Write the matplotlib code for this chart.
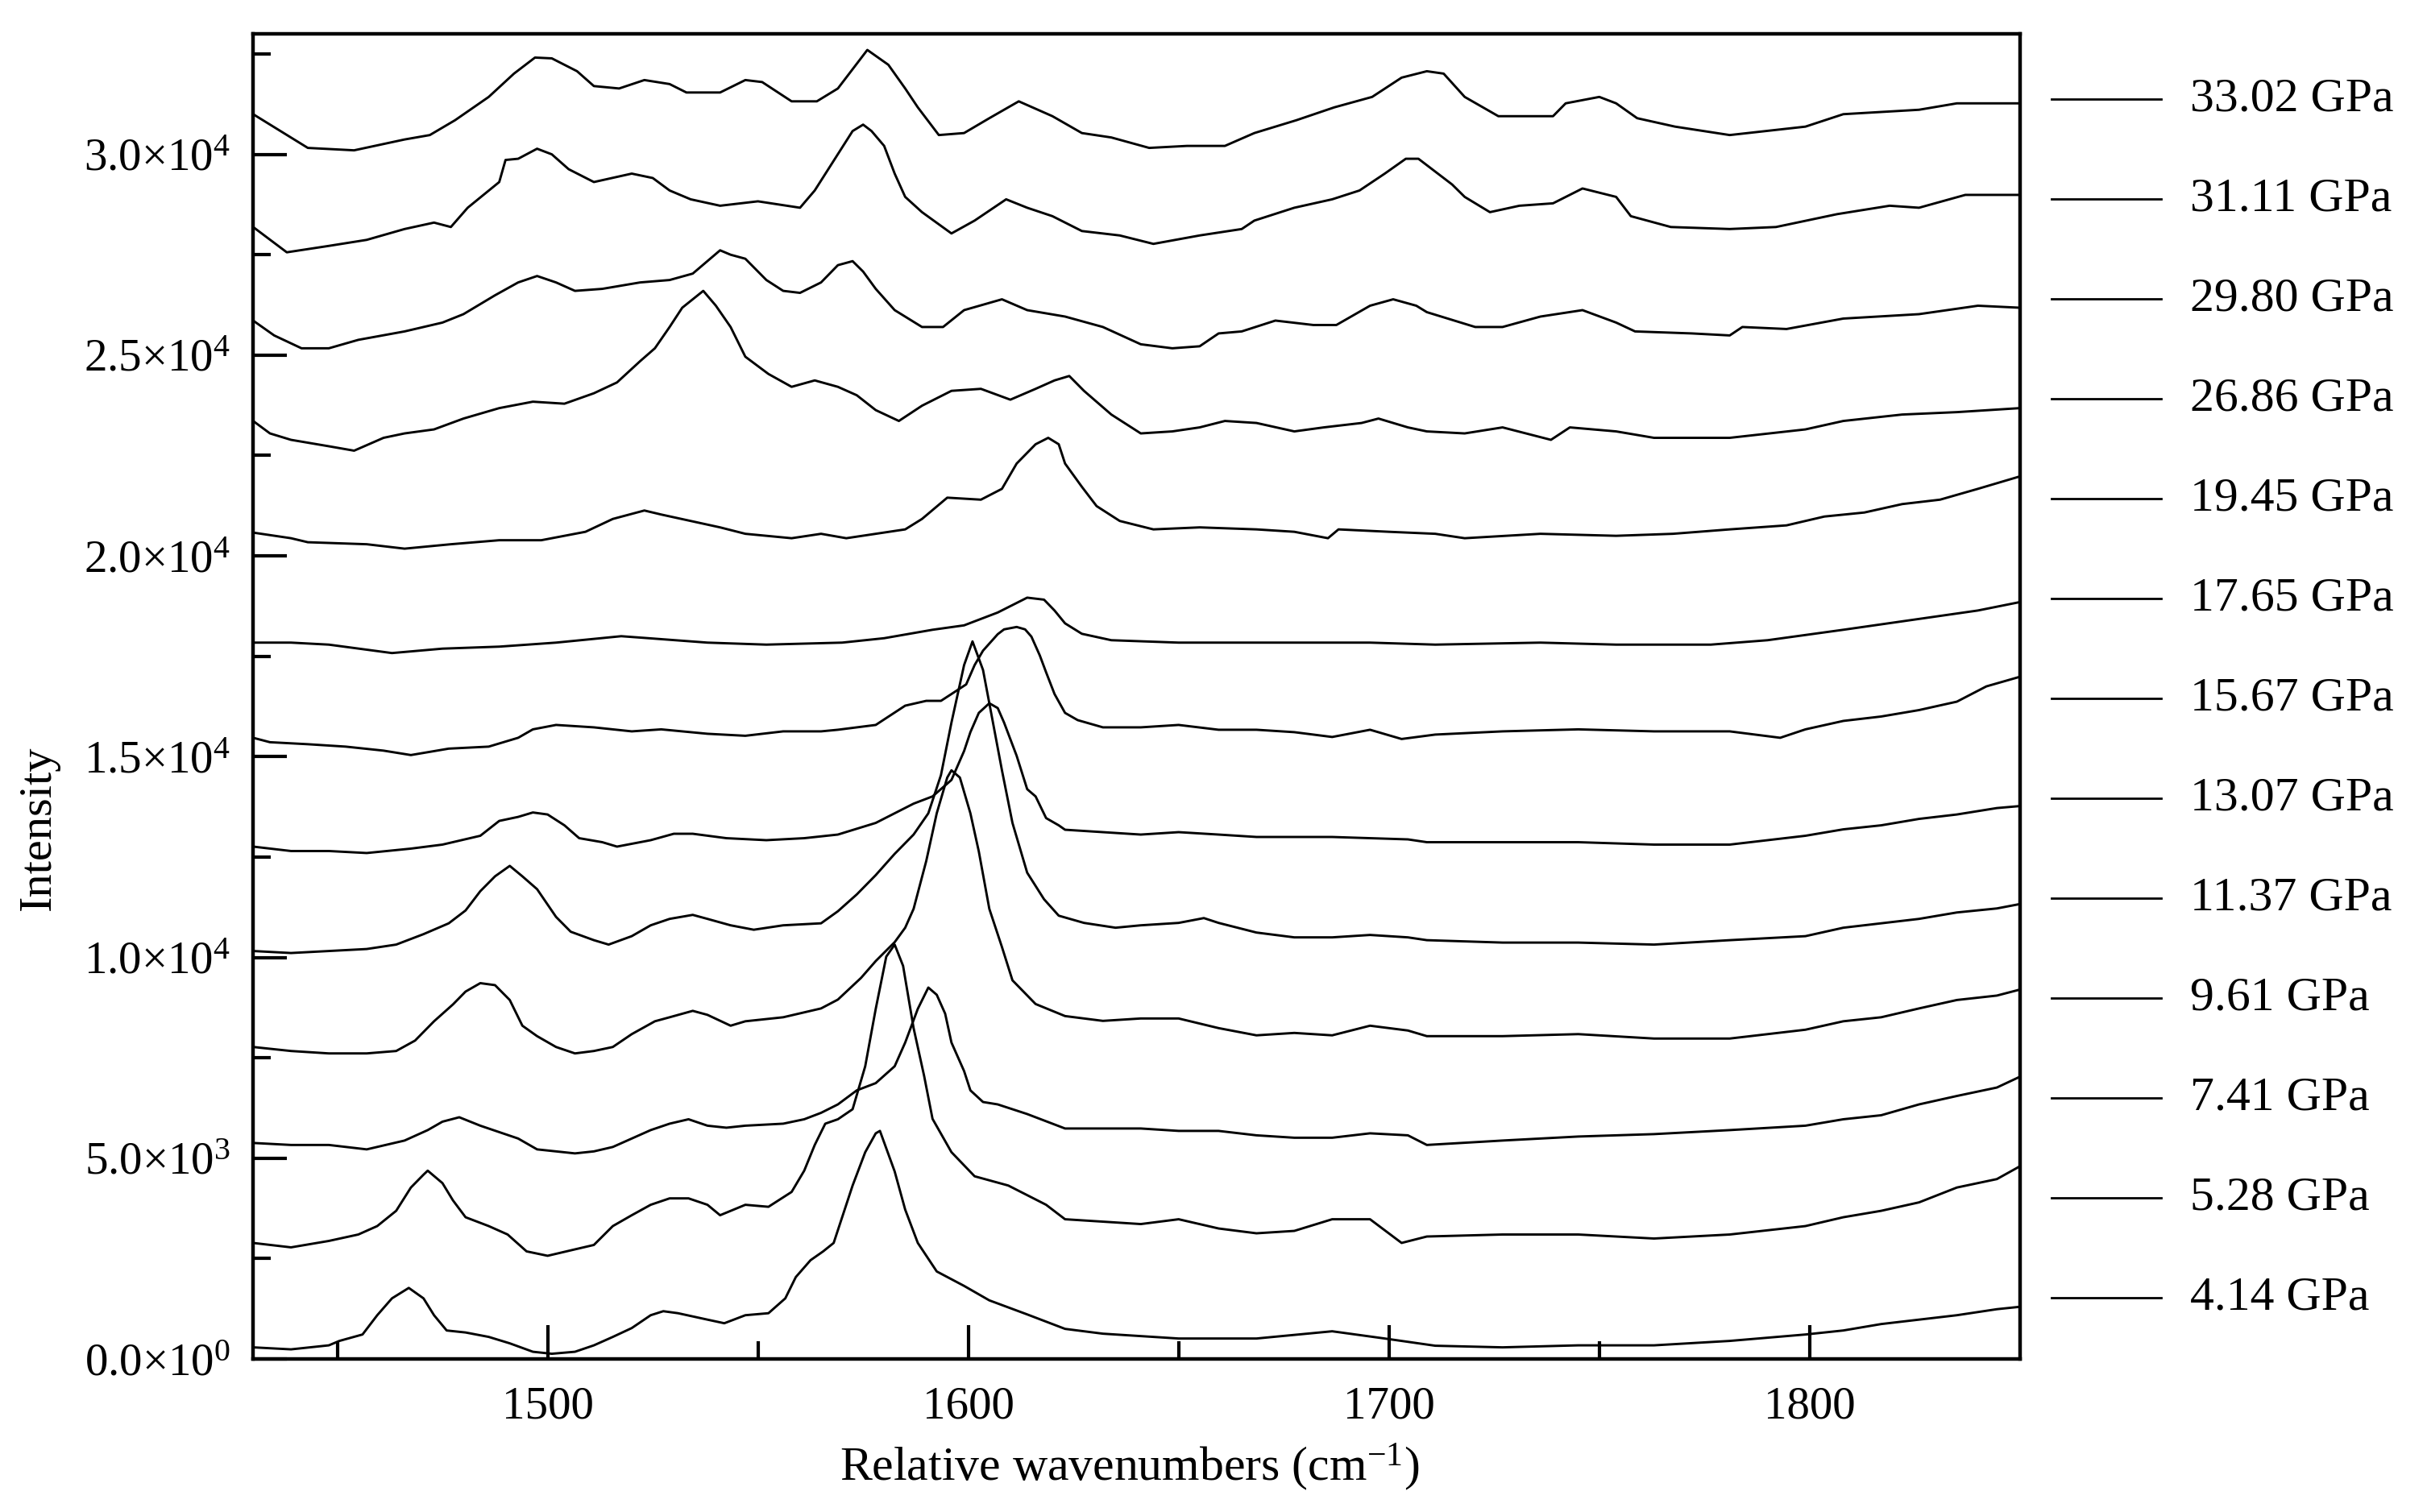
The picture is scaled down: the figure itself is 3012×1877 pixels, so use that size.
import matplotlib.pyplot as plt
from matplotlib.lines import Line2D
from matplotlib.ticker import MultipleLocator, FixedLocator, FuncFormatter
import math

plt.rcParams['font.family'] = 'Liberation Serif'
plt.rcParams['mathtext.fontset'] = 'custom'
plt.rcParams['mathtext.rm'] = 'Liberation Serif'
plt.rcParams['mathtext.it'] = 'Liberation Serif:italic'

# Raman-Spektren, Werte (Wellenzahl in cm-1, Intensität)
x_3302 = [1430, 1443, 1454, 1466, 1472, 1478, 1486, 1492, 1497, 1501, 1507, 1511, 1517, 1523, 1529, 1533, 1541, 1547,
          1551, 1558, 1564, 1569, 1576, 1581, 1585, 1588, 1593, 1599, 1605, 1612, 1620, 1627, 1634, 1643, 1652, 1661,
          1668, 1678, 1687, 1696, 1703, 1709, 1713, 1718, 1726, 1739, 1742, 1750, 1754, 1759, 1768, 1781, 1799, 1808,
          1826, 1835, 1850]
y_3302 = [31000, 30160, 30100, 30370, 30480, 30850, 31430, 32010, 32410, 32390, 32070, 31700, 31640, 31850, 31750,
          31540, 31540, 31850, 31800, 31320, 31320, 31640, 32600, 32230, 31640, 31170, 30480, 30530, 30900, 31320,
          30950, 30530, 30420, 30160, 30210, 30210, 30530, 30850, 31170, 31430, 31910, 32070, 32010, 31430, 30950,
          30950, 31270, 31430, 31270, 30900, 30690, 30480, 30690, 31000, 31110, 31270, 31270]

x_3111 = [1430, 1438, 1448, 1457, 1466, 1473, 1477, 1481, 1488.5, 1490, 1493, 1497.5, 1501, 1505, 1511, 1520, 1525,
          1529, 1534, 1541, 1550, 1560, 1563.5, 1568, 1572.5, 1575, 1577, 1580, 1582.5, 1585, 1589, 1596, 1601.5,
          1609, 1614, 1620, 1627, 1636, 1644, 1655, 1665, 1668, 1677.5, 1686.5, 1693, 1699, 1704, 1707, 1709, 1715,
          1718, 1724, 1731, 1739, 1746, 1754, 1757.5, 1767, 1781, 1792, 1806.5, 1819, 1826, 1837, 1850]
y_3111 = [28190, 27560, 27720, 27870, 28140, 28300, 28190, 28670, 29310, 29860, 29890, 30140, 30000, 29630, 29310,
          29520, 29410, 29100, 28880, 28720, 28830, 28670, 29100, 29840, 30580, 30740, 30580, 30210, 29520, 28940,
          28560, 28030, 28350, 28880, 28670, 28460, 28090, 27980, 27770, 27980, 28140, 28350, 28670, 28880, 29100,
          29520, 29890, 29890, 29730, 29250, 28940, 28560, 28720, 28780, 29150, 28940, 28460, 28190, 28140, 28190,
          28510, 28720, 28670, 28990, 28990]

x_2980 = [1430, 1435, 1441.5, 1448, 1455, 1466, 1475, 1480, 1487.5, 1493, 1497.5, 1502, 1506.5, 1513, 1522, 1529,
          1534.5, 1541, 1543.5, 1547, 1552, 1556, 1560, 1565, 1569, 1572.5, 1575, 1578, 1582.5, 1589, 1594, 1599,
          1608, 1614, 1623, 1632, 1641, 1648.5, 1655, 1659.5, 1665, 1673, 1682, 1687.5, 1695.5, 1701, 1706.5, 1709,
          1720.5, 1727, 1736, 1746, 1754, 1758.5, 1772, 1781, 1784, 1794.5, 1808, 1826, 1840, 1850]
y_2980 = [25860, 25490, 25170, 25170, 25380, 25590, 25810, 26020, 26490, 26810, 26970, 26810, 26600, 26650, 26810,
          26870, 27030, 27610, 27500, 27400, 26870, 26600, 26550, 26810, 27240, 27340, 27080, 26650, 26120, 25700,
          25700, 26120, 26390, 26120, 25960, 25700, 25270, 25170, 25220, 25540, 25590, 25860, 25750, 25750, 26230,
          26390, 26230, 26070, 25700, 25700, 25960, 26120, 25810, 25590, 25540, 25490, 25700, 25650, 25910, 26020,
          26230, 26180]

x_2686 = [1430, 1434, 1439, 1448, 1454, 1461, 1466, 1473, 1480, 1488.5, 1496.5, 1504, 1511, 1516.5, 1522, 1525.5,
          1529, 1532, 1534.5, 1537, 1540, 1543.5, 1547, 1552.5, 1558, 1563.5, 1569, 1573.5, 1578, 1583.5, 1589, 1596,
          1603, 1610, 1616, 1620.5, 1624, 1627.5, 1634, 1641, 1648.5, 1655, 1661, 1668.5, 1677.5, 1684.5, 1693.5,
          1697.5, 1704.5, 1709, 1718, 1727, 1738.5, 1743, 1754, 1763, 1781, 1799, 1808, 1822, 1835, 1850]
y_2686 = [23360, 23050, 22890, 22730, 22620, 22940, 23050, 23150, 23420, 23680, 23840, 23790, 24050, 24320, 24850,
          25170, 25700, 26180, 26390, 26600, 26230, 25700, 24960, 24530, 24210, 24370, 24210, 24000, 23630, 23360,
          23740, 24110, 24160, 23890, 24160, 24370, 24480, 24110, 23520, 23050, 23100, 23200, 23360, 23310, 23100,
          23200, 23310, 23420, 23200, 23100, 23050, 23200, 22890, 23200, 23100, 22940, 22940, 23150, 23360, 23520,
          23580, 23680]

x_1945 = [1430, 1439, 1443, 1457, 1466, 1477, 1488.5, 1498.5, 1509, 1515.5, 1523, 1527, 1534, 1541, 1547, 1558, 1565,
          1571, 1578, 1585, 1589, 1595, 1603, 1608, 1611.5, 1616, 1619, 1621.5, 1623, 1627, 1630.5, 1636, 1644, 1655,
          1668.5, 1677.5, 1685.5, 1688, 1700, 1711, 1718, 1736, 1754, 1767.5, 1781, 1794.5, 1803.5, 1813, 1822, 1831,
          1840, 1850]
y_1945 = [20580, 20440, 20340, 20290, 20180, 20290, 20390, 20390, 20600, 20920, 21130, 21030, 20870, 20710, 20550,
          20440, 20550, 20440, 20550, 20660, 20920, 21450, 21400, 21670, 22300, 22780, 22940, 22780, 22300, 21720,
          21240, 20870, 20660, 20710, 20660, 20600, 20440, 20660, 20600, 20550, 20440, 20550, 20500, 20550, 20660,
          20760, 20980, 21080, 21290, 21400, 21670, 21980]

x_1765 = [1430, 1439, 1448, 1463, 1475, 1488.5, 1502, 1517.5, 1524, 1538, 1552, 1570, 1580, 1591.5, 1599, 1607, 1614,
          1618, 1620.5, 1623, 1627, 1634, 1650, 1677.5, 1695.5, 1711, 1736, 1754, 1776.5, 1790, 1808, 1826, 1840, 1850]
y_1765 = [17840, 17840, 17790, 17580, 17690, 17740, 17840, 18000, 17950, 17840, 17790, 17840, 17950, 18160, 18270,
          18590, 18960, 18910, 18640, 18320, 18060, 17900, 17840, 17840, 17840, 17790, 17840, 17790, 17790, 17900,
          18160, 18430, 18640, 18850]

x_1567 = [1430, 1434, 1443, 1452, 1461, 1467.5, 1476.5, 1486, 1493, 1496.5, 1502, 1511, 1520, 1527, 1538, 1547, 1556,
          1565, 1569, 1578, 1585, 1590, 1593.5, 1596, 1599.5, 1601.5, 1603.5, 1607, 1608.5, 1611.5, 1613.5, 1615, 1617,
          1618.5, 1620.5, 1623, 1626, 1632, 1641, 1650, 1659.5, 1668.5, 1677.5, 1686.5, 1695.5, 1703, 1711, 1727, 1745,
          1763, 1781, 1793, 1799, 1808, 1817, 1826, 1835, 1842, 1850]
y_1567 = [15470, 15360, 15310, 15250, 15150, 15040, 15200, 15250, 15470, 15680, 15790, 15730, 15630, 15680, 15570,
          15520, 15630, 15630, 15670, 15790, 16270, 16390, 16390, 16560, 16800, 17280, 17640, 18050, 18170, 18230,
          18170, 17990, 17520, 17100, 16560, 16090, 15910, 15730, 15730, 15790, 15670, 15670, 15610, 15490, 15670,
          15440, 15550, 15630, 15680, 15630, 15630, 15470, 15680, 15890, 16000, 16160, 16370, 16750, 16990]

x_1307 = [1430, 1439, 1448, 1457, 1467.5, 1475, 1484, 1488.5, 1493, 1496.5, 1500, 1504, 1507.5, 1513, 1516.5, 1524.5,
          1530, 1534.5, 1542.5, 1552, 1561, 1569, 1578, 1587, 1591.5, 1596, 1599, 1600.5, 1602.5, 1605, 1607, 1608.5,
          1611.5, 1614, 1616, 1618.5, 1621.5, 1623, 1632, 1641, 1650, 1659.5, 1668.5, 1686.5, 1704.5, 1709, 1727,
          1745, 1763, 1781, 1799, 1808, 1817, 1826, 1835, 1844.5, 1850]
y_1307 = [12760, 12650, 12650, 12600, 12710, 12810, 13030, 13400, 13500, 13610, 13560, 13290, 12970, 12870, 12760,
          12920, 13080, 13080, 12970, 12920, 12970, 13060, 13350, 13830, 14010, 14420, 15140, 15610, 16090, 16330,
          16210, 15850, 15020, 14190, 14010, 13470, 13290, 13180, 13120, 13060, 13120, 13060, 13000, 13000, 12940,
          12870, 12870, 12870, 12810, 12810, 13030, 13190, 13290, 13450, 13560, 13720, 13770]

x_1137 = [1430, 1439, 1448, 1457, 1464, 1470.5, 1476.5, 1480.5, 1484, 1487.5, 1491, 1494, 1497.5, 1502, 1505.5, 1511,
          1514.5, 1520, 1524.5, 1529, 1534.5, 1538, 1543.5, 1549, 1556, 1565, 1569, 1573.5, 1578, 1582.5, 1587, 1590.5,
          1593.5, 1596, 1599, 1601, 1603.5, 1605, 1608, 1610.5, 1614, 1618, 1621.5, 1627.5, 1635, 1641, 1650, 1656,
          1659.5, 1668.5, 1677.5, 1686.5, 1695.5, 1704.5, 1709, 1727, 1745, 1763, 1781, 1799, 1808, 1817, 1826, 1835,
          1844.5, 1850]
y_1137 = [10160, 10110, 10160, 10210, 10320, 10580, 10850, 11170, 11650, 12020, 12280, 12020, 11700, 11010, 10640,
          10430, 10320, 10530, 10800, 10960, 11060, 10960, 10800, 10690, 10800, 10850, 11150, 11570, 12050, 12580,
          13060, 13590, 14540, 15850, 17280, 17870, 17160, 16330, 14660, 13350, 12110, 11450, 11040, 10860, 10740,
          10800, 10860, 10980, 10860, 10620, 10500, 10500, 10560, 10500, 10430, 10370, 10370, 10320, 10430, 10530,
          10740, 10850, 10960, 11120, 11220, 11330]

x_961 = [1430, 1439, 1448, 1457, 1464, 1468.5, 1473, 1477.5, 1480.5, 1484, 1487.5, 1491, 1494, 1497.5, 1502, 1506.5,
         1511, 1515.5, 1520, 1525.5, 1529, 1534.5, 1538, 1543.5, 1547, 1556, 1565, 1569, 1574.5, 1578, 1582.5, 1585,
         1587, 1590, 1592.5, 1595, 1596, 1598, 1600.5, 1602.5, 1605, 1608, 1610.5, 1616, 1623, 1632, 1641, 1650,
         1659.5, 1668.5, 1677.5, 1686.5, 1695.5, 1704.5, 1709, 1727, 1745, 1763, 1781, 1799, 1808, 1817, 1826, 1835,
         1844.5, 1850]
y_961 = [7770, 7670, 7610, 7610, 7670, 7930, 8410, 8830, 9150, 9360, 9310, 8940, 8300, 8040, 7770, 7610, 7670, 7770,
         8090, 8410, 8510, 8670, 8570, 8300, 8410, 8510, 8730, 8950, 9490, 9910, 10380, 10740, 11210, 12400, 13590,
         14480, 14660, 14480, 13590, 12640, 11210, 10260, 9430, 8840, 8540, 8420, 8480, 8480, 8240, 8060, 8120, 8060,
         8300, 8180, 8040, 8040, 8090, 7980, 7980, 8200, 8410, 8510, 8730, 8940, 9050, 9200]

x_741 = [1430, 1439, 1448, 1457, 1466, 1471.5, 1475, 1479, 1484, 1488.5, 1493, 1497.5, 1502, 1506.5, 1511, 1515.5,
         1520, 1524.5, 1529, 1533.5, 1538, 1542.5, 1547, 1556, 1561, 1565, 1569, 1573.5, 1578, 1582.5, 1585, 1588,
         1590.5, 1592.5, 1594.5, 1596, 1599, 1600.5, 1603.5, 1607, 1614, 1623, 1632, 1641, 1650, 1659.5, 1668.5,
         1677.5, 1686.5, 1695.5, 1704.5, 1709, 1727, 1745, 1763, 1781, 1799, 1808, 1817, 1826, 1835, 1844.5, 1850]
y_741 = [5380, 5330, 5330, 5220, 5440, 5700, 5910, 6020, 5810, 5650, 5490, 5220, 5170, 5120, 5170, 5280, 5490, 5700,
         5860, 5970, 5810, 5760, 5810, 5860, 5970, 6130, 6340, 6690, 6870, 7290, 7880, 8720, 9250, 9070, 8600, 7880,
         7170, 6690, 6400, 6340, 6100, 5740, 5740, 5740, 5680, 5680, 5570, 5510, 5510, 5620, 5570, 5330, 5440, 5540,
         5600, 5700, 5810, 5970, 6070, 6340, 6550, 6760, 7030]

x_528 = [1430, 1439, 1448, 1455, 1459.5, 1464, 1467.5, 1470.5, 1471.5, 1475, 1477.5, 1480.5, 1486, 1490.5, 1495,
         1500, 1506.5, 1511, 1515.5, 1520, 1524.5, 1529, 1533.5, 1538, 1541, 1547, 1552.5, 1558, 1561, 1563.5, 1566,
         1569, 1572.5, 1575.5, 1578, 1580.5, 1582.5, 1584.5, 1587, 1589.5, 1591.5, 1596, 1601.5, 1609.5, 1618.5, 1623,
         1632, 1641, 1650, 1659.5, 1668.5, 1677.5, 1686.5, 1695.5, 1703, 1709, 1727, 1745, 1763, 1781, 1799, 1808,
         1817, 1826, 1835, 1844.5, 1850]
y_528 = [2890, 2780, 2940, 3100, 3310, 3690, 4270, 4590, 4690, 4380, 3950, 3530, 3310, 3100, 2680, 2570, 2730, 2840,
         3310, 3580, 3840, 4000, 4000, 3840, 3580, 3840, 3790, 4160, 4690, 5330, 5860, 5970, 6220, 7290, 8720, 10020,
         10320, 9790, 8240, 7050, 5980, 5150, 4550, 4320, 3840, 3480, 3420, 3360, 3480, 3250, 3130, 3190, 3480, 3480,
         2890, 3050, 3100, 3100, 3000, 3100, 3310, 3530, 3690, 3900, 4270, 4480, 4800]

x_414 = [1430, 1439, 1448, 1450.5, 1456, 1459.5, 1463, 1467, 1470.5, 1473, 1476, 1480.5, 1486, 1491, 1496.5, 1501,
         1506.5, 1511, 1515.5, 1520, 1524.5, 1527.5, 1531, 1538, 1542, 1547, 1552.5, 1556.5, 1559, 1562.5, 1565.5,
         1568, 1572.5, 1575.5, 1578, 1579, 1582.5, 1585, 1588, 1592.5, 1599, 1605, 1614, 1623, 1632, 1650, 1668.5,
         1686.5, 1699, 1711, 1727, 1745, 1763, 1781, 1799, 1808, 1817, 1826, 1835, 1844.5, 1850]
y_414 = [290, 240, 340, 450, 610, 1090, 1510, 1770, 1510, 1090, 710, 660, 550, 390, 180, 130, 180, 340, 550, 770,
         1090, 1190, 1140, 980, 890, 1090, 1140, 1510, 2040, 2460, 2680, 2890, 4320, 5150, 5620, 5680, 4670, 3720,
         2890, 2180, 1820, 1460, 1110, 750, 630, 510, 510, 690, 510, 330, 290, 340, 340, 450, 610, 710, 870, 980,
         1090, 1240, 1300]

# Legende von oben nach unten
drucke = ['33.02 GPa', '31.11 GPa', '29.80 GPa', '26.86 GPa', '19.45 GPa', '17.65 GPa', '15.67 GPa',
          '13.07 GPa', '11.37 GPa', '9.61 GPa', '7.41 GPa', '5.28 GPa', '4.14 GPa']
spektren = [(x_3302, y_3302), (x_3111, y_3111), (x_2980, y_2980), (x_2686, y_2686), (x_1945, y_1945),
            (x_1765, y_1765), (x_1567, y_1567), (x_1307, y_1307), (x_1137, y_1137), (x_961, y_961),
            (x_741, y_741), (x_528, y_528), (x_414, y_414)]

fig = plt.figure(figsize=(15.06, 9.385), dpi=200)
ax = fig.add_axes([0.1043, 0.1012, 0.7280, 0.8764])

for wn, inten in spektren:
    ax.plot(wn, inten, color='black', linewidth=1.05)

ax.set_xlim(1430, 1850)
ax.set_ylim(0, 33000)


def sci_label(v, pos):
    if v < 0:
        return ''
    if v < 1:
        return r'0.0$\times$10$^{0}$'
    e = int(math.floor(math.log10(v)))
    m = v / 10 ** e
    return '%.1f$\\times$10$^{%d}$' % (m, e)


ax.xaxis.set_major_locator(MultipleLocator(100))
ax.xaxis.set_minor_locator(FixedLocator([1450, 1550, 1650, 1750]))
ax.yaxis.set_major_locator(MultipleLocator(5000))
ax.yaxis.set_minor_locator(MultipleLocator(2500))
ax.yaxis.set_major_formatter(FuncFormatter(sci_label))

ax.tick_params(which='both', direction='in', top=False, right=False, width=1.5, labelsize=20.5)
ax.tick_params(which='major', length=15)
ax.tick_params(which='minor', length=8)
ax.tick_params(axis='x', pad=12)
ax.tick_params(axis='y', pad=10)
for s in ax.spines.values():
    s.set_linewidth(1.6)

ax.set_xlabel('Relative wavenumbers (cm$^{-1}$)', fontsize=21.5)
ax.xaxis.set_label_coords(0.496, -0.0815)
ax.xaxis.label.set_va('center')
ax.set_ylabel('Intensity', fontsize=21)
ax.yaxis.set_label_coords(-0.1213, 0.4006)
ax.yaxis.label.set_va('center')

# Legende rechts neben dem Diagramm, gleichmäßige Abstände
for i, lab in enumerate(drucke):
    yf = 1 - (123 + 124 * i) / 1877
    fig.add_artist(Line2D([0.8453, 0.8904], [yf, yf], transform=fig.transFigure, color='black', linewidth=1.0))
    fig.text(0.9024, yf, lab, fontsize=21.5, va='center', ha='left')

fig.savefig('out.png', dpi=200)
